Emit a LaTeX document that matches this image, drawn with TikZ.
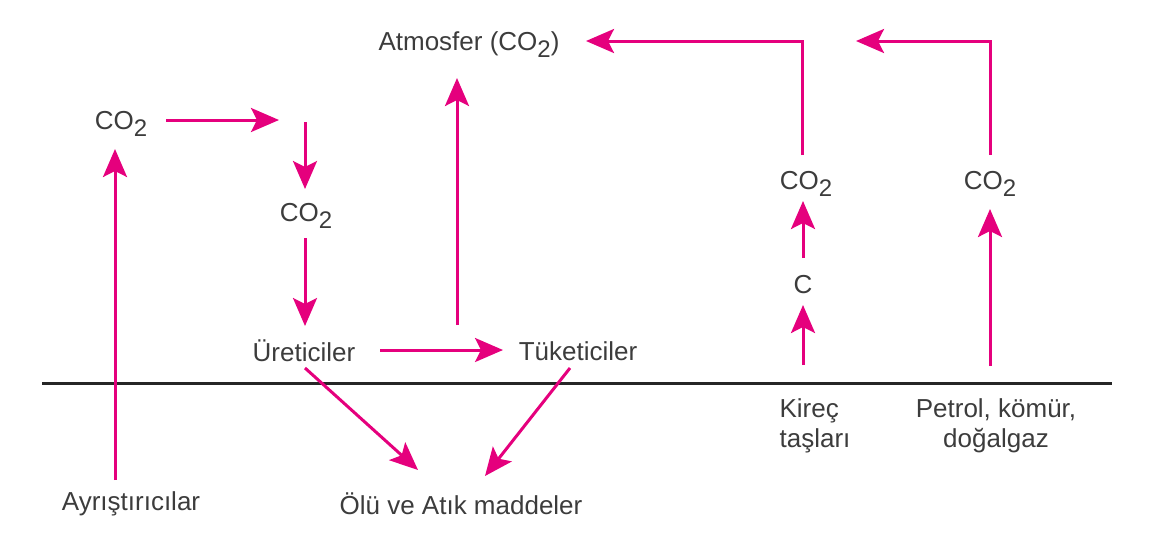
\documentclass[tikz,border=0pt]{standalone}
\usepackage{fontspec}
\setmainfont{Liberation Sans}
\usetikzlibrary{arrows.meta,calc}
\definecolor{mag}{HTML}{E5007D}
\definecolor{txt}{HTML}{3C3C3C}
\newcommand{\cotwo}{CO{\fontsize{24}{24}\selectfont\raisebox{-7pt}{2}}}
\begin{document}
\begin{tikzpicture}[x=1pt,y=-1pt,
  lbl/.style={text=txt,font=\fontsize{26}{30}\selectfont,inner sep=0pt,align=center},
  arr/.style={draw=mag,line width=3pt,-{Stealth[length=28pt,width=24pt,inset=6pt]}},
  seg/.style={draw=mag,line width=3pt}]
\useasboundingbox (0,0) rectangle (1150,539);
% ground line
\coordinate (gl) at (42,383);
\coordinate (gr) at (1112,383);
\draw[line width=3pt,draw=black!85] (gl) -- (gr);
% nodes
\node[lbl] (atm) at (469,45) {Atmosfer (\cotwo)};
\node[lbl] (co2a) at (121,124) {\cotwo};
\node[lbl] (co2b) at (306,216) {\cotwo};
\node[lbl] (ure) at (304,351) {Üreticiler};
\node[lbl] (tuk) at (578,351) {Tüketiciler};
\node[lbl] (olu) at (461,504) {Ölü ve Atık maddeler};
\node[lbl] (ayr) at (131,504) {Ayrıştırıcılar};
\node[lbl] (co2c) at (806,184) {\cotwo};
\node[lbl] (c) at (803,285) {C};
\node[lbl] (co2d) at (990,184) {\cotwo};
\node[lbl,align=left] (kir) at (815,426) {Kireç\\taşları};
\node[lbl] (pet) at (996,426) {Petrol, kömür,\\doğalgaz};
% arrow ends
\coordinate (a1s) at (115,480);
\coordinate (a1e) at (115,149);
\coordinate (a2s) at (166,120);
\coordinate (a2e) at (279,120);
\coordinate (a3s) at (305,122);
\coordinate (a3e) at (305,189);
\coordinate (a4s) at (305,238);
\coordinate (a4e) at (305,326);
\coordinate (a5s) at (457,325);
\coordinate (a5e) at (457,78);
\coordinate (a6s) at (380,350);
\coordinate (a6e) at (503,350);
\coordinate (a7s) at (305,368);
\coordinate (a7e) at (418,470);
\coordinate (a8s) at (570,368);
\coordinate (a8e) at (485,476);
\coordinate (a9s) at (803,365);
\coordinate (a9e) at (803,305);
\coordinate (a10s) at (803,258);
\coordinate (a10e) at (803,201);
\coordinate (a11s) at (802,155);
\coordinate (a11c) at (802,41);
\coordinate (a11e) at (586,41);
\coordinate (a12s) at (990,366);
\coordinate (a12e) at (990,209);
\coordinate (a13s) at (990,155);
\coordinate (a13c) at (990,41);
\coordinate (a13e) at (856,41);
% connectors
\draw[arr] (a1s) -- (a1e);
\draw[arr] (a2s) -- (a2e);
\draw[arr] (a3s) -- (a3e);
\draw[arr] (a4s) -- (a4e);
\draw[arr] (a5s) -- (a5e);
\draw[arr] (a6s) -- (a6e);
\draw[arr] (a7s) -- (a7e);
\draw[arr] (a8s) -- (a8e);
\draw[arr] (a9s) -- (a9e);
\draw[arr] (a10s) -- (a10e);
\draw[arr] (a11s) -- (a11c) -- (a11e);
\draw[arr] (a12s) -- (a12e);
\draw[arr] (a13s) -- (a13c) -- (a13e);
\end{tikzpicture}
\end{document}
